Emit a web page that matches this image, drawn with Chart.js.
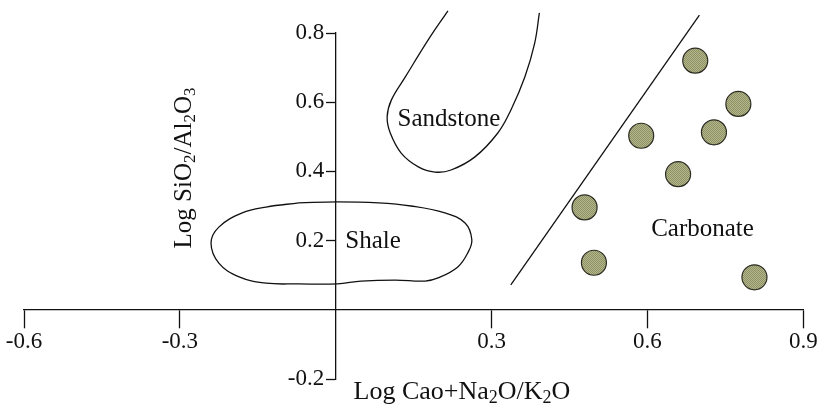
<!DOCTYPE html>
<html>
<head>
<meta charset="utf-8">
<script src="https://cdn.jsdelivr.net/npm/chart.js@4.4.1/dist/chart.umd.min.js"></script>
<style>
  html, body { margin: 0; padding: 0; background: #fff; }
  #wrap { width: 817px; height: 408px; position: relative; }
</style>
</head>
<body>
<div id="wrap"><canvas id="discriminationChart"></canvas></div>
<script>
// Sample points (Carbonate field)
const sampleX = [0.692, 0.775, 0.588, 0.728, 0.659, 0.479, 0.497, 0.806];
const sampleY = [0.720, 0.595, 0.503, 0.513, 0.392, 0.296, 0.136, 0.094];

// Field boundaries
const shaleX = [-0.071, 0.003, 0.082, 0.145, 0.210, 0.249, 0.262, 0.254, 0.235, 0.197, 0.172, 0.115, 0.049, 0.003, -0.071, -0.134, -0.186, -0.225, -0.240, -0.225, -0.180, -0.134, -0.071];
const shaleY = [0.309, 0.312, 0.309, 0.300, 0.280, 0.251, 0.202, 0.164, 0.124, 0.092, 0.083, 0.086, 0.083, 0.075, 0.075, 0.077, 0.095, 0.135, 0.193, 0.239, 0.280, 0.297, 0.309];
const sandstoneX = [0.216, 0.178, 0.134, 0.107, 0.099, 0.105, 0.126, 0.159, 0.191, 0.222, 0.268, 0.312, 0.337, 0.364, 0.383, 0.392];
const sandstoneY = [0.864, 0.780, 0.673, 0.606, 0.557, 0.511, 0.453, 0.413, 0.398, 0.404, 0.442, 0.511, 0.577, 0.673, 0.771, 0.858];
const boundaryX = [0.337, 0.700];
const boundaryY = [0.072, 0.852];

// Field names and where they sit
const fieldNames = ['Sandstone', 'Shale', 'Carbonate'];
const fieldLabelX = [0.218, 0.072, 0.706];
const fieldLabelY = [0.549, 0.197, 0.231];

// Axes
const xTickValues = [-0.6, -0.3, 0.3, 0.6, 0.9];
const xTickLabels = ['-0.6', '-0.3', '0.3', '0.6', '0.9'];
const yTickValues = [-0.2, 0.2, 0.4, 0.6, 0.8];
const yTickLabels = ['-0.2', '0.2', '0.4', '0.6', '0.8'];
const xTitle = [['Log Cao+Na', false], ['2', true], ['O/K', false], ['2', true], ['O', false]];
const yTitle = [['Log SiO', false], ['2', true], ['/Al', false], ['2', true], ['O', false], ['3', true]];

const FONT = '"Liberation Serif", "Times New Roman", serif';
const INK = '#111';

const toPoints = (xs, ys) => xs.map((v, i) => ({ x: v, y: ys[i] }));

// fine hatched olive fill for the sample circles
const tile = document.createElement('canvas');
tile.width = 2; tile.height = 2;
const tctx = tile.getContext('2d');
tctx.fillStyle = '#b4b78c'; tctx.fillRect(0, 0, 2, 2);
tctx.fillStyle = '#8e9163'; tctx.fillRect(0, 0, 1, 1); tctx.fillRect(1, 1, 1, 1);
const hatch = tctx.createPattern(tile, 'repeat');

function drawRich(ctx, parts, size) {
  const subSize = Math.round(size * 0.68);
  let total = 0;
  parts.forEach(([t, sub]) => {
    ctx.font = (sub ? subSize : size) + 'px ' + FONT;
    total += ctx.measureText(t).width;
  });
  let cx = -total / 2;
  parts.forEach(([t, sub]) => {
    ctx.font = (sub ? subSize : size) + 'px ' + FONT;
    ctx.fillText(t, cx, sub ? 4 : 0);
    cx += ctx.measureText(t).width;
  });
}

const textPlugin = {
  id: 'textPlugin',
  afterDraw(chart) {
    const { ctx, scales: { x, y } } = chart;
    ctx.save();
    ctx.fillStyle = INK;
    ctx.font = '25px ' + FONT;
    ctx.textAlign = 'center';
    ctx.textBaseline = 'middle';
    fieldNames.forEach((n, i) => {
      ctx.fillText(n, x.getPixelForValue(fieldLabelX[i]), y.getPixelForValue(fieldLabelY[i]));
    });

    ctx.textAlign = 'left';
    ctx.textBaseline = 'alphabetic';
    // x title
    ctx.save();
    ctx.translate(462, 399);
    drawRich(ctx, xTitle, 26);
    ctx.restore();
    // y title (rotated)
    ctx.save();
    ctx.translate(191, 168);
    ctx.rotate(-Math.PI / 2);
    drawRich(ctx, yTitle, 25);
    ctx.restore();
    ctx.restore();
  }
};

const curve = {
  showLine: true,
  borderColor: INK,
  borderWidth: 1.3,
  pointRadius: 0,
  tension: 0.4,
  fill: false,
  clip: false
};

const ctx = document.getElementById('discriminationChart').getContext('2d');
const discriminationChart = new Chart(ctx, {
  type: 'scatter',
  data: {
    datasets: [
      Object.assign({ label: 'Shale', data: toPoints(shaleX, shaleY) }, curve),
      Object.assign({ label: 'Sandstone', data: toPoints(sandstoneX, sandstoneY) }, curve),
      Object.assign({ label: 'Boundary', data: toPoints(boundaryX, boundaryY) }, curve, { tension: 0 }),
      {
        label: 'Samples',
        data: toPoints(sampleX, sampleY),
        pointRadius: 12.5,
        pointBackgroundColor: hatch,
        pointBorderColor: '#2b2b22',
        pointBorderWidth: 1.2,
        clip: false
      }
    ]
  },
  options: {
    responsive: true,
    maintainAspectRatio: false,
    animation: false,
    layout: { padding: { left: 24, right: 10, top: 33, bottom: 29 } },
    plugins: { legend: { display: false }, tooltip: { enabled: false } },
    scales: {
      x: {
        type: 'linear',
        min: -0.6,
        max: 0.9,
        position: { y: 0 },
        afterBuildTicks: s => { s.ticks = xTickValues.map(v => ({ value: v })); },
        afterFit: s => { s.paddingLeft = 0; s.paddingRight = 0; },
        grid: { drawOnChartArea: false, tickLength: 18, tickWidth: 1.3, tickColor: INK },
        border: { color: INK, width: 1.3 },
        ticks: {
          padding: 0,
          maxRotation: 0,
          color: INK,
          font: { family: FONT, size: 23 },
          callback: (v, i) => xTickLabels[i]
        }
      },
      y: {
        type: 'linear',
        min: -0.2,
        max: 0.8,
        position: { x: 0 },
        afterBuildTicks: s => { s.ticks = yTickValues.map(v => ({ value: v })); },
        afterFit: s => { s.paddingTop = 0; s.paddingBottom = 0; },
        grid: { drawOnChartArea: false, tickLength: 9, tickWidth: 1.3, tickColor: INK },
        border: { color: INK, width: 1.3 },
        ticks: {
          color: INK,
          font: { family: FONT, size: 23 },
          // centred axes draw labels flush with the axis line, so pad them past the tick marks
          callback: (v, i) => yTickLabels[i] + '\u2002'
        }
      }
    }
  },
  plugins: [textPlugin]
});
</script>
</body>
</html>
